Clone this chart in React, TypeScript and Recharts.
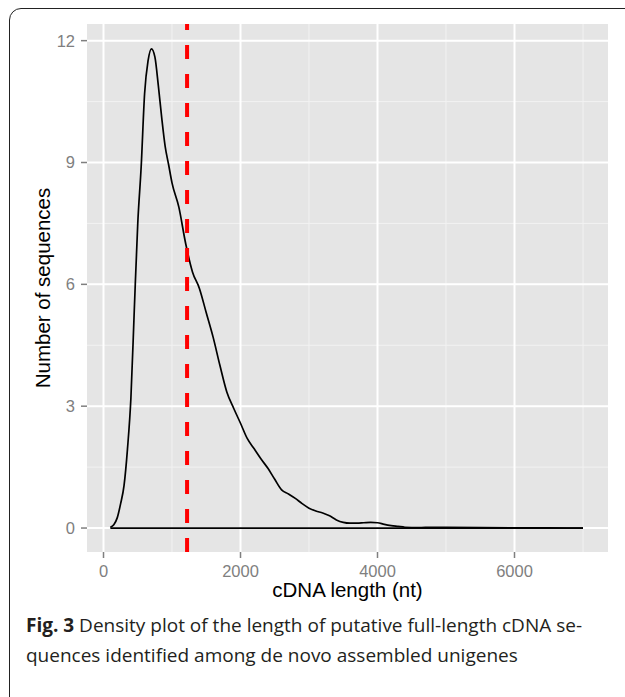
import {
  LineChart,
  Line,
  XAxis,
  YAxis,
  CartesianGrid,
  ReferenceLine,
} from "recharts";

// density estimate (length in nt, density scaled)
const lengthNt = [
  100, 150, 200, 250, 300, 350, 400, 450, 500, 550, 600, 650, 700, 750, 800, 850, 900, 950, 1000,
  1100, 1200, 1300, 1400, 1500, 1600, 1700, 1800, 1900, 2000, 2100, 2200, 2300, 2400, 2500, 2600,
  2700, 2800, 2900, 3000, 3100, 3200, 3300, 3400, 3500, 3600, 3700, 3800, 3900, 4000, 4100, 4200,
  4300, 4400, 4600, 4800, 5000, 5500, 6000, 6500, 7000,
];
const density = [
  0.02, 0.08, 0.25, 0.6, 1.05, 1.95, 3.2, 5.4, 7.5, 8.9, 10.7, 11.5, 11.8, 11.6, 10.9, 10.1, 9.4, 8.95,
  8.5, 7.9, 7.0, 6.3, 5.9, 5.3, 4.7, 4.0, 3.35, 2.95, 2.58, 2.2, 1.95, 1.7, 1.47, 1.2, 0.94, 0.84,
  0.73, 0.6, 0.49, 0.42, 0.37, 0.3, 0.2, 0.14, 0.12, 0.12, 0.13, 0.14, 0.13, 0.09, 0.06, 0.04, 0.02,
  0.01, 0.02, 0.015, 0.01, 0.005, 0.003, 0,
];
const baseline = [
  { x: 100, y: 0 },
  { x: 7000, y: 0 },
];
const medianLength = 1220;

const xTicks = [0, 2000, 4000, 6000];
const xMinor = [1000, 3000, 5000, 7000];
const yTicks = [0, 3, 6, 9, 12];
const yMinor = [1.5, 4.5, 7.5, 10.5];

const curve = lengthNt.map((x, i) => ({ x, y: density[i] }));

const tickStyle = { fill: "#7F7F7F", fontSize: 16.5 };

export default function App() {
  return (
    <div style={{ position: "absolute", left: 0, top: 0, width: 625, height: 697, background: "#fff", overflow: "hidden" }}>
      <div
        style={{
          position: "absolute",
          left: 9,
          top: 8,
          width: 640,
          height: 720,
          border: "1.4px solid #222",
          borderTopLeftRadius: 12,
        }}
      />
      <div style={{ position: "absolute", left: 0, top: 0 }}>
        <LineChart
          width={625}
          height={697}
          margin={{ top: 24, right: 17, left: 0, bottom: 95 }}
          style={{ fontFamily: "'Liberation Sans', Arial, sans-serif" }}
        >
          <CartesianGrid
            fill="#E5E5E5"
            stroke="#F2F2F2"
            strokeWidth={1}
            horizontalValues={yMinor}
            verticalValues={xMinor}
          />
          <CartesianGrid
            stroke="#FFFFFF"
            strokeWidth={2}
            horizontalValues={yTicks}
            verticalValues={xTicks}
          />
          <XAxis
            type="number"
            dataKey="x"
            domain={[-241, 7365]}
            ticks={xTicks}
            allowDataOverflow
            axisLine={false}
            tickSize={6}
            tickMargin={7}
            tickLine={{ stroke: "#7F7F7F", strokeWidth: 1.5 }}
            tick={tickStyle}
            height={50}
            label={{ value: "cDNA length (nt)", position: "insideBottom", offset: 5, fill: "#000", fontSize: 20.5 }}
          />
          <YAxis
            type="number"
            domain={[-0.59, 12.41]}
            ticks={yTicks}
            allowDataOverflow
            axisLine={false}
            tickSize={6}
            tickMargin={6}
            tickLine={{ stroke: "#7F7F7F", strokeWidth: 1.5 }}
            tick={tickStyle}
            width={87}
            label={{
              value: "Number of sequences",
              angle: -90,
              position: "insideLeft",
              offset: 43,
              fill: "#000",
              fontSize: 20.5,
              style: { textAnchor: "middle" },
            }}
          />
          <Line
            data={baseline}
            dataKey="y"
            type="linear"
            stroke="#000"
            strokeWidth={1.7}
            dot={false}
            isAnimationActive={false}
          />
          <Line
            data={curve}
            dataKey="y"
            type="monotone"
            stroke="#000"
            strokeWidth={1.7}
            dot={false}
            isAnimationActive={false}
          />
          <ReferenceLine x={medianLength} stroke="#FF0000" strokeWidth={4} strokeDasharray="14 15" />
        </LineChart>
      </div>
      <div
        style={{
          position: "absolute",
          left: 26,
          top: 610,
          fontFamily: "'Open Sans', sans-serif",
          fontSize: 19,
          lineHeight: "30px",
          color: "#231F20",
          whiteSpace: "nowrap",
        }}
      >
        <b>Fig. 3</b> Density plot of the length of putative full-length cDNA se-
        <br />
        quences identified among de novo assembled unigenes
      </div>
    </div>
  );
}
